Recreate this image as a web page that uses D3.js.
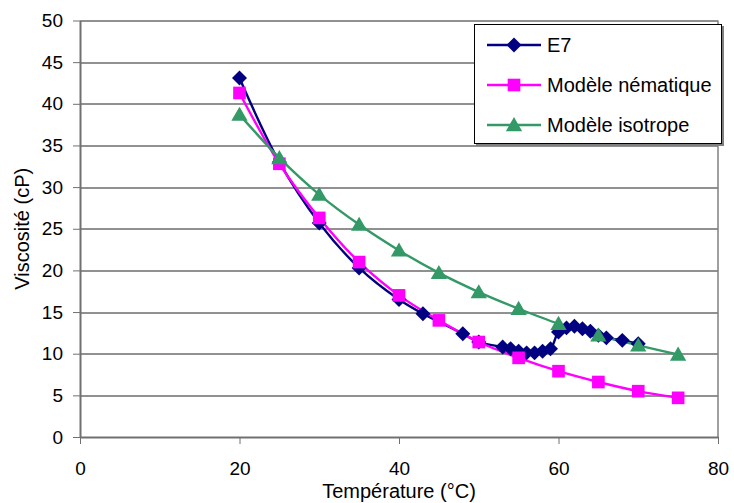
<!DOCTYPE html>
<html>
<head>
<meta charset="utf-8">
<script src="https://cdn.jsdelivr.net/npm/d3@7"></script>
<style>
  body { margin: 0; background: #fff; }
  text { font-family: "Liberation Sans", Arial, sans-serif; }
</style>
</head>
<body>
<div class="canvas"></div>
<script>
// data
const e7Temp = [20, 25, 30, 35, 40, 43, 48, 50, 53, 54, 55, 56, 57, 58, 59, 60, 61, 62, 63, 64, 65, 66, 68, 70]
const e7Visc = [43.1, 33.0, 25.7, 20.3, 16.5, 14.8, 12.4, 11.4, 10.8, 10.6, 10.3, 10.1, 10.1, 10.3, 10.6, 12.6, 13.1, 13.3, 13.0, 12.7, 12.2, 11.9, 11.6, 11.2]

const modelTemp = [20, 25, 30, 35, 40, 45, 50, 55, 60, 65, 70, 75]
const nemVisc = [41.3, 32.8, 26.3, 21.0, 17.0, 14.0, 11.4, 9.5, 7.9, 6.6, 5.5, 4.7]
const isoVisc = [38.7, 33.5, 29.1, 25.5, 22.4, 19.7, 17.4, 15.4, 13.6, 12.2, 11.0, 9.9]

const xTicks = [0, 20, 40, 60, 80]
const yTicks = [0, 5, 10, 15, 20, 25, 30, 35, 40, 45, 50]

const seriesNames = ['E7', 'Modèle nématique', 'Modèle isotrope']
const seriesColors = ['#000080', '#ff00ff', '#339966']

const margin = {top: 20.5, right: 16, bottom: 66, left: 80}
const width = 734, height = 503
const graphWidth = width - margin.left - margin.right
const graphHeight = height - margin.top - margin.bottom

const svg = d3.select('.canvas')
    .append('svg')
    .attr('width', width)
    .attr('height', height)

const graph = svg.append('g')
    .attr('transform', `translate(${margin.left}, ${margin.top})`)

const x = d3.scaleLinear().domain([0, 80]).range([0, graphWidth])
const y = d3.scaleLinear().domain([0, 50]).range([graphHeight, 0])

// horizontal gridlines
graph.selectAll('.grid')
    .data(yTicks.filter(d => d > 0))
    .enter().append('line')
    .attr('class', 'grid')
    .attr('x1', 0).attr('x2', graphWidth)
    .attr('y1', d => Math.round(y(d)) + 0.5)
    .attr('y2', d => Math.round(y(d)) + 0.5)
    .attr('stroke', '#222')
    .attr('stroke-width', 1)

// right border of plot area
graph.append('line')
    .attr('x1', graphWidth).attr('x2', graphWidth)
    .attr('y1', 0).attr('y2', graphHeight)
    .attr('stroke', '#808080')
    .attr('stroke-width', 1.5)

const xAxis = d3.axisBottom(x).tickValues(xTicks).tickSize(7).tickSizeOuter(0)
const yAxis = d3.axisLeft(y).tickValues(yTicks).tickSize(7).tickSizeOuter(0)

const xAxisGroup = graph.append('g')
    .attr('transform', `translate(0, ${graphHeight})`)
    .call(xAxis)
const yAxisGroup = graph.append('g').call(yAxis)

;[xAxisGroup, yAxisGroup].forEach(g => {
    g.select('.domain').attr('stroke', '#707070').attr('stroke-width', 2)
    g.selectAll('.tick line').attr('stroke', '#707070').attr('stroke-width', 1)
    g.selectAll('text')
        .attr('font-size', 19)
        .attr('fill', '#000')
        .attr('font-family', '"Liberation Sans", Arial, sans-serif')
})
xAxisGroup.selectAll('text').attr('y', 25).attr('dy', '0.71em')
yAxisGroup.selectAll('text').attr('x', -17)

// axis titles
svg.append('text')
    .attr('x', margin.left + graphWidth / 2)
    .attr('y', 498)
    .attr('text-anchor', 'middle')
    .attr('font-size', 20)
    .text('Température (°C)')

svg.append('text')
    .attr('transform', `translate(29, ${margin.top + graphHeight / 2}) rotate(-90)`)
    .attr('text-anchor', 'middle')
    .attr('font-size', 20)
    .text('Viscosité (cP)')

const line = d3.line()
    .x(d => x(d[0]))
    .y(d => y(d[1]))
    .curve(d3.curveCatmullRom.alpha(0.5))

const series = [
    e7Temp.map((t, i) => [t, e7Visc[i]]),
    modelTemp.map((t, i) => [t, nemVisc[i]]),
    modelTemp.map((t, i) => [t, isoVisc[i]])
]

// diamond = square turned 45 degrees, like Excel's marker
const diamond = d3.symbol().type(d3.symbolSquare).size(112)
const square = d3.symbol().type(d3.symbolSquare).size(160)
const triangle = d3.symbol().type(d3.symbolTriangle).size(115)
const shapes = [diamond, square, triangle]
const markerTf = (k, px, py) => k === 0 ? `translate(${px}, ${py}) rotate(45)`
    : `translate(${px}, ${py + (k === 2 ? 1.5 : 0)})`

series.forEach((s, k) => {
    graph.append('path')
        .datum(s)
        .attr('d', line)
        .attr('fill', 'none')
        .attr('stroke', seriesColors[k])
        .attr('stroke-width', 2.4)
})
series.forEach((s, k) => {
    graph.selectAll('.m' + k)
        .data(s)
        .enter().append('path')
        .attr('class', 'm' + k)
        .attr('d', shapes[k])
        .attr('transform', d => markerTf(k, x(d[0]), y(d[1])))
        .attr('fill', seriesColors[k])
})

// legend
const legend = svg.append('g').attr('transform', 'translate(474, 24)')
legend.append('rect')
    .attr('x', 2).attr('y', 2)
    .attr('width', 248).attr('height', 120)
    .attr('fill', '#808080')
legend.append('rect')
    .attr('x', 0.5).attr('y', 0.5)
    .attr('width', 247).attr('height', 119)
    .attr('fill', '#fff')
    .attr('stroke', '#000')

seriesNames.forEach((name, k) => {
    const ly = 21 + k * 40
    legend.append('line')
        .attr('x1', 13).attr('x2', 67)
        .attr('y1', ly).attr('y2', ly)
        .attr('stroke', seriesColors[k])
        .attr('stroke-width', 2.4)
    legend.append('path')
        .attr('d', shapes[k])
        .attr('transform', markerTf(k, 40, ly))
        .attr('fill', seriesColors[k])
    legend.append('text')
        .attr('x', 73)
        .attr('y', ly + 7)
        .attr('font-size', 20)
        .text(name)
})
</script>
</body>
</html>
